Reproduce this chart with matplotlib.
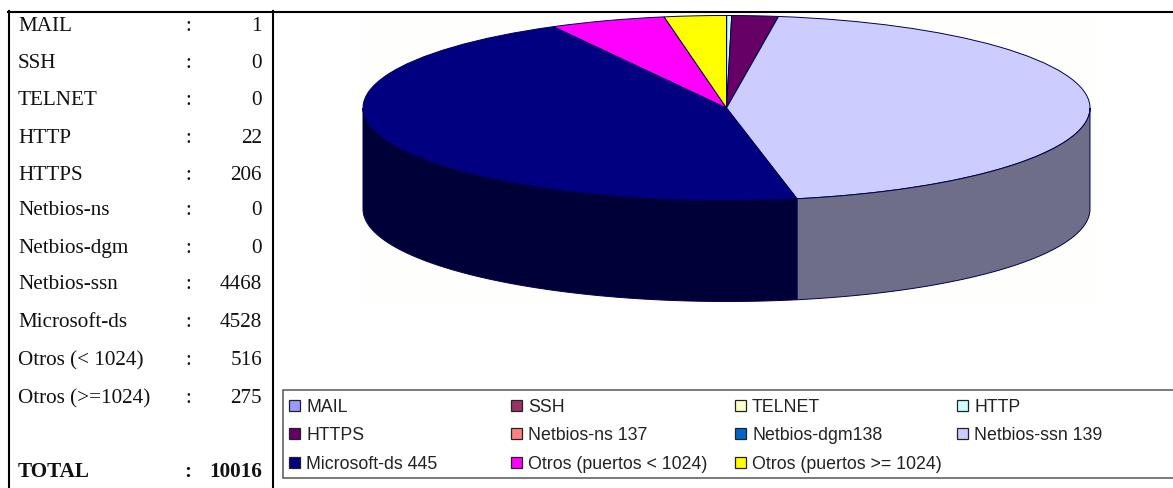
import numpy as np
import matplotlib
matplotlib.use('Agg')
import matplotlib.pyplot as plt
from matplotlib.patches import Rectangle

W, H = 1173, 489

# table on the left
row_names = ['MAIL', 'SSH', 'TELNET', 'HTTP', 'HTTPS', 'Netbios-ns', 'Netbios-dgm',
             'Netbios-ssn', 'Microsoft-ds', 'Otros (< 1024)', 'Otros (>=1024)']
row_values = [1, 0, 0, 22, 206, 0, 0, 4468, 4528, 516, 275]
total_label = 'TOTAL'
total_value = 10016

# pie + legend
legend_names = ['MAIL', 'SSH', 'TELNET', 'HTTP', 'HTTPS', 'Netbios-ns 137', 'Netbios-dgm138',
                'Netbios-ssn 139', 'Microsoft-ds 445', 'Otros (puertos < 1024)',
                'Otros (puertos >= 1024)']
colors = ['#9999ff', '#993366', '#ffffcc', '#ccffff', '#660066', '#ff8080', '#0066cc',
          '#ccccff', '#000080', '#ff00ff', '#ffff00']
side_colors = {7: '#6e6e88', 8: '#000038'}

# text baselines in px
row_y = [31, 68, 105, 143, 180, 215, 253, 289, 327, 365, 403]
total_y = 477

fig = plt.figure(figsize=(W / 100, H / 100), dpi=100)
page = fig.add_axes([0, 0, 1, 1])
page.set_xlim(0, W)
page.set_ylim(H, 0)
page.axis('off')

# frame lines
page.plot([8, W], [12.5, 12.5], color='black', lw=1.5)
page.plot([8.5, 8.5], [12, H], color='black', lw=1.5)
page.plot([272.5, 272.5], [12, H], color='black', lw=1.5)

serif = dict(family='Liberation Serif', fontsize=15.2, color='#111111', va='baseline')
for name, val, y in zip(row_names, row_values, row_y):
    page.text(18, y, name, ha='left', **serif)
    page.text(188, y, ':', ha='center', **serif)
    page.text(262, y, str(val), ha='right', **serif)
page.text(18, total_y, total_label, ha='left', fontweight='bold', **serif)
page.text(188, total_y, ':', ha='center', fontweight='bold', **serif)
page.text(262, total_y, str(total_value), ha='right', fontweight='bold', **serif)

# legend box, runs off the right edge
page.add_patch(Rectangle((282.5, 390.5), W, 88, facecolor='white', edgecolor='#555555', lw=1.1))
col_x = [289, 511, 735, 957]
leg_y = [406, 434.5, 463.5]
for i, (name, col) in enumerate(zip(legend_names, colors)):
    x = col_x[i % 4]
    y = leg_y[i // 4]
    page.add_patch(Rectangle((x, y - 5.5), 11, 11, facecolor=col, edgecolor='#222222', lw=0.9))
    page.text(x + 17, y + 5.5, name, ha='left', va='baseline', family='Liberation Sans',
              fontsize=12.8, color='#222222')

# faint jpeg background behind the pie
page.add_patch(Rectangle((361, 15), 736, 291, facecolor='#fefefc', edgecolor='none'))

# pie: top ellipse spans 363-1090 px, wall about 100 px deep
rx, ry, depth_px = 363.5, 92.5, 101
top_px = 16.5
depth = depth_px / ry
ax = fig.add_axes([363 / W, 1 - (top_px + 2 * ry + depth_px) / H, 2 * rx / W, (2 * ry + depth_px) / H])
ax.patch.set_visible(False)

ax.pie(row_values, colors=colors, startangle=90, counterclock=False, radius=1,
       wedgeprops=dict(edgecolor='#000050', linewidth=0.7))
ax.set_aspect('auto')
ax.set_xlim(-1, 1)
ax.set_ylim(-1 - depth, 1)

# side wall, only the part of each slice on the front half (90-270 deg clockwise from top)
edges = np.r_[0, np.cumsum(row_values)] / sum(row_values) * 360
for i in range(len(row_values)):
    a0 = max(edges[i], 90)
    a1 = min(edges[i + 1], 270)
    if a1 <= a0:
        continue
    t = np.radians(np.linspace(a0, a1, 120))
    x = np.sin(t)
    y = np.cos(t)
    ax.fill(np.r_[x, x[::-1]], np.r_[y, y[::-1] - depth], facecolor=side_colors.get(i, colors[i]),
            edgecolor='#000050', linewidth=0.7, clip_on=False)

fig.savefig('out.png', dpi=100)
